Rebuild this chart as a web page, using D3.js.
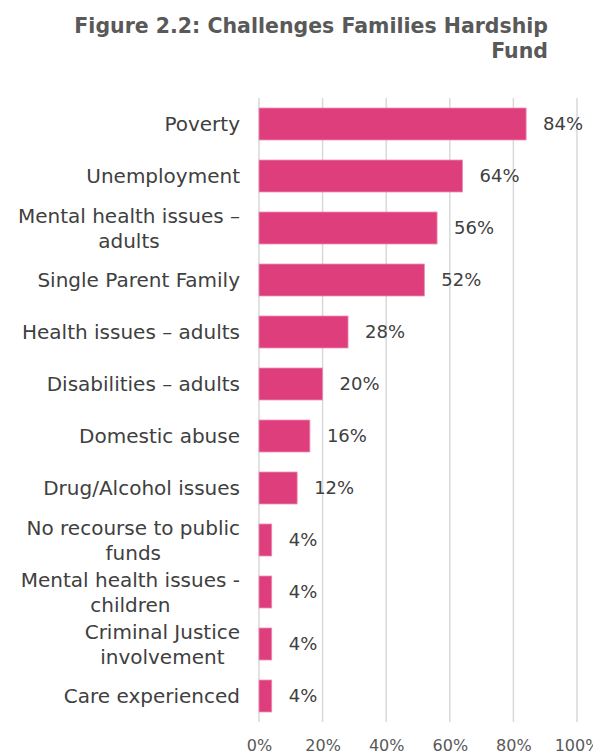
<!DOCTYPE html>
<html>
<head>
<meta charset="utf-8">
<script src="https://cdn.jsdelivr.net/npm/d3@7"></script>
<style>
  html, body { margin: 0; padding: 0; background: #fff; }
  svg { display: block; }
  text { font-family: "DejaVu Sans", Verdana, sans-serif; }
</style>
</head>
<body>
<svg id="chart" width="593" height="754"></svg>
<script>
// Challenges reported by families (share of applicants)
const categories = [
  ["Poverty"],
  ["Unemployment"],
  ["Mental health issues \u2013", "adults"],
  ["Single Parent Family"],
  ["Health issues \u2013 adults"],
  ["Disabilities \u2013 adults"],
  ["Domestic abuse"],
  ["Drug/Alcohol issues"],
  ["No recourse to public", "funds"],
  ["Mental health issues -", "children"],
  ["Criminal Justice", "involvement"],
  ["Care experienced"]
];
const values = [84, 64, 56, 52, 28, 20, 16, 12, 4, 4, 4, 4];
const tickValues = [0, 20, 40, 60, 80, 100];
const titleLines = ["Figure 2.2: Challenges Families Hardship", "Fund"];

const svg = d3.select("#chart");
const plotTop = 98, plotBottom = 722;

const x = d3.scaleLinear().domain([0, 100]).range([259, 577]);
const y = d3.scaleBand()
  .domain(d3.range(categories.length))
  .range([plotTop, plotBottom])
  .paddingInner(0.385)
  .paddingOuter(0.1925);

// Title, right aligned
svg.append("g").selectAll("text")
  .data(titleLines)
  .join("text")
  .attr("x", 548)
  .attr("y", (d, i) => 33 + i * 25)
  .attr("text-anchor", "end")
  .attr("font-size", 20.5)
  .attr("font-weight", "bold")
  .attr("fill", "#595959")
  .text(d => d);

// Vertical gridlines
svg.append("g")
  .selectAll("line")
  .data(tickValues)
  .join("line")
  .attr("x1", d => x(d)).attr("x2", d => x(d))
  .attr("y1", plotTop).attr("y2", plotBottom)
  .attr("stroke", "#d9d9d9")
  .attr("stroke-width", 1.5);

// Bottom axis labels
const xAxis = d3.axisBottom(x)
  .tickValues(tickValues)
  .tickFormat(d => d + "%")
  .tickSize(0)
  .tickPadding(18);
const gx = svg.append("g").attr("transform", `translate(0,${plotBottom})`).call(xAxis);
gx.select(".domain").remove();
gx.selectAll("text")
  .attr("font-size", 16)
  .attr("font-family", "DejaVu Sans, sans-serif")
  .attr("fill", "#595959");

// Bars
svg.append("g")
  .selectAll("rect")
  .data(values)
  .join("rect")
  .attr("x", x(0))
  .attr("y", (d, i) => y(i))
  .attr("width", d => x(d) - x(0))
  .attr("height", y.bandwidth())
  .attr("fill", "#df3e7d")
  .attr("stroke", "#ec8cb2")
  .attr("stroke-width", 0.8);

// Value labels
svg.append("g")
  .selectAll("text")
  .data(values)
  .join("text")
  .attr("x", d => x(d) + 17)
  .attr("y", (d, i) => y(i) + y.bandwidth() / 2)
  .attr("dy", "0.36em")
  .attr("font-size", 18)
  .attr("fill", "#404040")
  .text(d => d + "%");

// Category labels: block right aligned, lines centred within the block
const lineHeight = 25;
const labelRight = 240;
const cat = svg.append("g");
categories.forEach((lines, i) => {
  const cy = y(i) + y.bandwidth() / 2;
  const g = cat.append("g");
  const texts = lines.map((ln, j) => g.append("text")
    .attr("y", cy + (j - (lines.length - 1) / 2) * lineHeight)
    .attr("dy", "0.36em")
    .attr("font-size", 20)
    .attr("fill", "#404040")
    .text(ln));
  const w = d3.max(texts, t => t.node().getComputedTextLength());
  texts.forEach(t => t.attr("x", labelRight - w / 2).attr("text-anchor", "middle"));
});
</script>
</body>
</html>
